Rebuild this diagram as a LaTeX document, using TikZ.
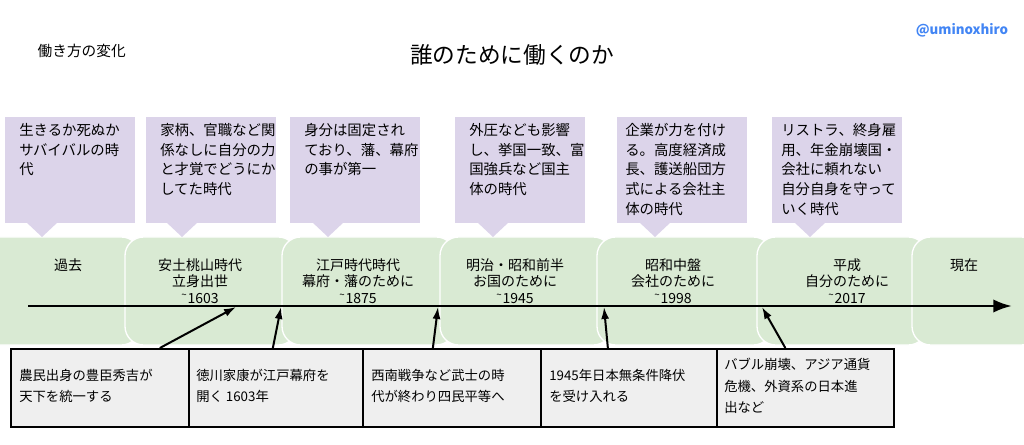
\documentclass[tikz,border=0pt]{standalone}
\usepackage{fontspec}
\setmainfont{Noto Sans CJK JP}
\usetikzlibrary{arrows.meta}
\definecolor{pur}{RGB}{220,212,234}
\definecolor{grn}{RGB}{217,234,211}
\definecolor{gry}{RGB}{239,239,239}
\definecolor{blu}{RGB}{66,133,244}
\begin{document}
\begin{tikzpicture}[x=0.75pt,y=-0.75pt,
  call/.style={anchor=north west,inner sep=0pt,align=left,font=\fontsize{10.8}{14.8}\selectfont},
  seg/.style={fill=grn,draw=white,line width=1pt,rounded corners=14pt},
  per/.style={align=center,font=\fontsize{10.5}{12.5}\selectfont},
  ev/.style={draw=black,line width=1.3pt,fill=gry,minimum height=58.5pt,anchor=north west,inner sep=0pt},
  evt/.style={anchor=west,align=left,inner sep=0pt,font=\fontsize{10}{16}\selectfont},
  arr/.style={-{Latex[length=9pt,width=6pt]},line width=1.5pt}]
\useasboundingbox (0,0) rectangle (1024,445);
% title
\node[font=\fontsize{17}{20}\selectfont] (title) at (512,55) {誰のために働くのか};
\node[font=\fontsize{11}{12}\selectfont,anchor=west] (sub) at (33,51) {働き方の変化};
\node[font=\bfseries\fontsize{10}{12}\selectfont,text=blu] (tag) at (962,30) {@uminoxhiro};
% green band
\path[seg] (-30,237) rectangle (140,345);
\foreach \a/\b in {125/297,282/455,440/612,597/772,757/927,912/1040}{
  \path[seg] (\a,237) rectangle (\b,345);}
\node[per] (p0) at (68,265) {過去};
\node[per] (p1) at (200,281) {安土桃山時代\\立身出世\\\textsuperscript{\~{}}1603};
\node[per] (p2) at (358,281) {江戸時代時代\\幕府・藩のために\\\textsuperscript{\~{}}1875};
\node[per] (p3) at (515,281) {明治・昭和前半\\お国のために\\\textsuperscript{\~{}}1945};
\node[per] (p4) at (673,281) {昭和中盤\\会社のために\\\textsuperscript{\~{}}1998};
\node[per] (p5) at (847,281) {平成\\自分のために\\\textsuperscript{\~{}}2017};
\node[per] (p6) at (964,265) {現在};
% callouts
\foreach \x/\t in {5/42,146/182,290/328,455/493,617/655,772/810}{
  \fill[pur] (\x,117) rectangle (\x+130,223);
  \fill[pur] (\t-16,222) -- (\t,237) -- (\t+16,222) -- cycle;}
\node[call] (c0) at (19,123) {生きるか死ぬか\\サバイバルの時\\代};
\node[call] (c1) at (160,123) {家柄、官職など関\\係なしに自分の力\\と才覚でどうにか\\してた時代};
\node[call] (c2) at (304,123) {身分は固定され\\ており、藩、幕府\\の事が第一};
\node[call] (c3) at (469,123) {外圧なども影響\\し、挙国一致、富\\国強兵など国主\\体の時代};
\node[call] (c4) at (625,123) {企業が力を付け\\る。高度経済成\\長、護送船団方\\式による会社主\\体の時代};
\node[call] (c5) at (781,123) {リストラ、終身雇\\用、年金崩壊国・\\会社に頼れない\\自分自身を守って\\いく時代};
% timeline
\coordinate (t0) at (28,306);
\coordinate (t1) at (1012,306);
\draw[-{Latex[length=14pt,width=10pt]},line width=2pt] (t0) -- (t1);
% events
\node[ev,minimum width=133.5pt] (e1) at (10,348) {};
\node[ev,minimum width=130.5pt] (e2) at (188,348) {};
\node[ev,minimum width=133.5pt] (e3) at (362,348) {};
\node[ev,minimum width=132pt] (e4) at (540,348) {};
\node[ev,minimum width=132.75pt] (e5) at (716,348) {};
\node[evt] at (19,386) {農民出身の豊臣秀吉が\\天下を統一する};
\node[evt] at (196,386) {徳川家康が江戸幕府を\\開く\ 1603年};
\node[evt] at (371,386) {西南戦争など武士の時\\代が終わり四民平等へ};
\node[evt] at (549,386) {1945年日本無条件降伏\\を受け入れる};
\node[evt] at (724,386) {バブル崩壊、アジア通貨\\危機、外資系の日本進\\出など};
\coordinate (a1) at (236,307);
\coordinate (a2) at (281,307);
\coordinate (a3) at (438,307);
\coordinate (a4) at (604,307);
\coordinate (a5) at (762,307);
\draw[arr] (e1.north)++(60,0) -- (a1);
\draw[arr] (e2.north)++(-3,0) -- (a2);
\draw[arr] (e3.north)++(-19,0) -- (a3);
\draw[arr] (e4.north)++(-21,0) -- (a4);
\draw[arr] (e5.north)++(-20,0) -- (a5);
\end{tikzpicture}
\end{document}
